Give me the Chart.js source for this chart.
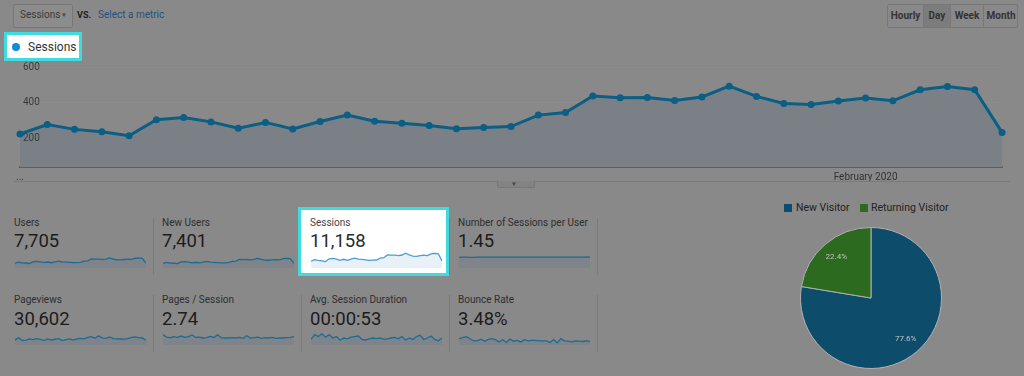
<!DOCTYPE html>
<html>
<head>
<meta charset="utf-8">
<script src="https://cdn.jsdelivr.net/npm/chart.js@4.4.1/dist/chart.umd.min.js"></script>
<style>
  body { margin: 0; width: 1024px; height: 376px; background: #898989; font-family: Roboto, sans-serif; position: relative; overflow: hidden; }
  .abs { position: absolute; white-space: nowrap; }
  .btn { position: absolute; top: 0; height: 22px; line-height: 22px; text-align: center; font-size: 10px; font-weight: bold; color: #333; border-left: 1px solid #777; }
</style>
</head>
<body>

<!-- top controls -->
<div class="abs" style="left:13px;top:4px;width:58px;height:22px;border:1px solid #777;border-radius:2px;background:#8c8c8c;"></div>
<div class="abs" style="left:20px;top:9px;font-size:10px;color:#3b3b3b;">Sessions</div>
<div class="abs" style="left:61px;top:11px;font-size:6px;color:#444;">&#9660;</div>
<div class="abs" style="left:77px;top:10px;font-size:9px;font-weight:bold;color:#1e1e1e;">VS.</div>
<div class="abs" style="left:98px;top:9px;font-size:10px;color:#27507a;">Select a metric</div>

<div class="abs" style="left:887px;top:4px;width:129px;height:22px;border:1px solid #777;border-radius:2px;">
  <div class="btn" style="left:0;width:35px;border-left:none;">Hourly</div>
  <div class="btn" style="left:35px;width:26px;background:#7c7c7c;">Day</div>
  <div class="btn" style="left:62px;width:32px;">Week</div>
  <div class="btn" style="left:95px;width:34px;">Month</div>
</div>

<!-- legend highlight -->
<div class="abs" style="left:4px;top:32px;width:78px;height:29px;box-sizing:border-box;border:3px solid #3fdbdf;background:#fff;"></div>
<div class="abs" style="left:12px;top:43px;width:8px;height:8px;border-radius:50%;background:#0d8ed6;"></div>
<div class="abs" style="left:28px;top:40px;font-size:12px;color:#333;">Sessions</div>

<canvas id="mainChart" class="abs" style="left:0;top:51px;" width="1024" height="136"></canvas>

<!-- bottom rule and tab -->
<div class="abs" style="left:14px;top:181px;width:996px;height:1px;background:#7a7a7a;"></div>
<div class="abs" style="left:497px;top:181px;width:36px;height:6px;background:#838383;border:1px solid #777;border-top:none;border-radius:0 0 2px 2px;"></div>
<div class="abs" style="left:511px;top:180px;font-size:6px;color:#444;">&#9660;</div>

<!-- sessions tile highlight -->
<div class="abs" style="left:298px;top:207px;width:151px;height:69px;box-sizing:border-box;border:3px solid #3fdbdf;background:#fff;"></div>

<div id="tiles"></div>

<!-- pie legend -->
<div class="abs" style="left:784px;top:204px;width:8px;height:8px;background:#0e4c6c;"></div>
<div class="abs" style="left:796px;top:201px;font-size:10.5px;color:#222;">New Visitor</div>
<div class="abs" style="left:860px;top:204px;width:8px;height:8px;background:#2c6a1f;"></div>
<div class="abs" style="left:871px;top:201px;font-size:10.5px;color:#222;">Returning Visitor</div>
<canvas id="pieChart" class="abs" style="left:796px;top:223px;" width="150" height="150"></canvas>

<script>
// days shown on the main chart
const days = ['Jan 1','Jan 2','Jan 3','Jan 4','Jan 5','Jan 6','Jan 7','Jan 8','Jan 9','Jan 10',
  'Jan 11','Jan 12','Jan 13','Jan 14','Jan 15','Jan 16','Jan 17','Jan 18','Jan 19','Jan 20',
  'Jan 21','Jan 22','Jan 23','Jan 24','Jan 25','Jan 26','Jan 27','Jan 28','Jan 29','Jan 30',
  'Jan 31','Feb 1','Feb 2','Feb 3','Feb 4','Feb 5','Feb 6'];
const monthTickDays = ['Jan 1', 'Feb 1'];
const monthTickText = ['...', 'February 2020'];
const yTicks = [200, 400, 600];

const sessions = [225,278,251,238,215,305,318,293,257,290,253,295,331,297,286,273,255,261,267,331,
  345,438,429,430,413,433,493,436,396,390,410,427,411,473,491,473,234];

// sparklines in the metric tiles
const usersDaily = [160,192,174,166,150,210,219,203,178,200,176,204,228,205,198,189,177,181,185,228,
  238,300,295,296,285,298,338,300,273,269,283,294,283,325,337,325,163];
const newUsersDaily = [154,184,167,159,144,201,210,194,170,192,168,195,218,196,190,181,170,174,177,218,
  228,287,282,284,273,286,324,288,262,258,271,281,271,311,322,311,157];
const sessionsPerUserDaily = [1.41,1.45,1.44,1.43,1.43,1.45,1.45,1.44,1.44,1.45,1.44,1.45,1.45,1.45,1.44,1.44,1.44,1.44,1.44,1.45,
  1.45,1.46,1.45,1.45,1.45,1.45,1.46,1.45,1.45,1.45,1.45,1.45,1.45,1.46,1.46,1.47,1.43];
const pageviewsDaily = [700,1050,640,700,860,760,900,800,640,880,720,820,900,620,760,880,700,860,940,880,
  1100,1200,960,1330,980,940,1150,900,880,860,850,900,1100,1150,1050,1000,640];
const pagesPerSessionDaily = [3.7,2.8,2.6,3.0,2.7,3.2,2.7,3.0,3.6,2.7,2.8,2.5,2.6,3.1,2.7,3.6,2.6,2.5,2.5,2.6,
  2.5,2.7,2.4,3.3,2.5,2.6,2.8,2.4,2.6,2.5,2.7,2.4,2.5,2.5,2.6,2.7,3.0];
const avgDurationDaily = [40,74,60,80,56,74,50,60,34,50,44,56,60,64,40,36,44,50,46,50,
  40,44,50,54,44,60,36,50,40,60,70,40,50,64,40,30,50];
const bounceRateDaily = [4.5,5.2,6.0,4.5,3.0,3.0,4.2,2.7,3.8,4.5,3.8,2.2,3.8,1.8,4.2,2.7,3.3,2.2,3.8,3.0,
  3.3,3.3,3.0,3.0,3.0,1.8,3.8,1.5,4.5,3.0,2.7,2.2,3.0,2.7,2.5,3.0,2.5];

const metricNames = ['Users','New Users','Sessions','Number of Sessions per User',
  'Pageviews','Pages / Session','Avg. Session Duration','Bounce Rate'];
const metricTotals = ['7,705','7,401','11,158','1.45','30,602','2.74','00:00:53','3.48%'];
const sparkSeries = [usersDaily, newUsersDaily, sessions, sessionsPerUserDaily,
  pageviewsDaily, pagesPerSessionDaily, avgDurationDaily, bounceRateDaily];

const visitorTypes = ['New Visitor', 'Returning Visitor'];
const visitorShare = [77.6, 22.4];

Chart.defaults.font.family = 'Roboto, sans-serif';
const lineDim = '#0b5e84';

new Chart(document.getElementById('mainChart'), {
  type: 'line',
  data: {
    labels: days,
    datasets: [{
      data: sessions,
      borderColor: lineDim,
      backgroundColor: '#7a8086',
      fill: 'start',
      borderWidth: 3,
      pointRadius: 3.5,
      pointBackgroundColor: lineDim,
      pointBorderWidth: 0,
      tension: 0,
      clip: false
    }]
  },
  options: {
    responsive: false,
    animation: false,
    layout: { padding: { left: 14, right: 22, top: 0, bottom: 0 } },
    plugins: { legend: { display: false }, tooltip: { enabled: false } },
    scales: {
      x: {
        grid: { display: false, drawTicks: false },
        border: { display: true, color: '#5e5e5e', width: 2 },
        ticks: {
          autoSkip: false, maxRotation: 0, padding: 4, color: '#333', font: { size: 10 },
          callback: function (v, i) {
            const k = monthTickDays.indexOf(days[i]);
            return k < 0 ? '' : monthTickText[k];
          }
        }
      },
      y: {
        min: 40, max: 640,
        afterBuildTicks: function (axis) { axis.ticks = yTicks.map(v => ({ value: v })); },
        grid: { color: 'rgba(255,255,255,0.04)', drawTicks: false },
        border: { display: false },
        ticks: { z: 1, mirror: true, padding: 3, color: '#3a3a3a', font: { size: 10 } }
      }
    }
  }
});

// metric tiles
const tiles = document.getElementById('tiles');
metricNames.forEach(function (name, i) {
  const col = i % 4, row = Math.floor(i / 4);
  const x = 14 + col * 148;
  const hi = i === 2;
  const labelTop = row === 0 ? 216 : 293;
  const valueTop = row === 0 ? 230 : 308;

  if (!(row === 0 && col === 1)) {
    const d = document.createElement('div');
    d.className = 'abs';
    d.style.cssText = 'left:' + (153 + col * 148) + 'px;top:' + (row === 0 ? 218 : 295) + 'px;width:1px;height:57px;background:#7a7a7a;';
    tiles.appendChild(d);
  }

  const lab = document.createElement('div');
  lab.className = 'abs';
  lab.style.cssText = 'left:' + x + 'px;top:' + (labelTop + 1) + 'px;font-size:10px;color:' + (hi ? '#444' : '#2e2e2e') + ';';
  lab.textContent = name;
  tiles.appendChild(lab);

  const val = document.createElement('div');
  val.className = 'abs';
  val.style.cssText = 'left:' + x + 'px;top:' + valueTop + 'px;font-size:18.5px;line-height:23px;color:' + (hi ? '#2a2a2a' : '#1c1c1c') + ';';
  val.textContent = metricTotals[i];
  tiles.appendChild(val);

  const c = document.createElement('canvas');
  c.className = 'abs';
  c.width = 131;
  c.height = row === 0 ? 16 : 15;
  c.style.left = (x + 1) + 'px';
  c.style.top = (row === 0 ? 252 : 330) + 'px';
  tiles.appendChild(c);

  new Chart(c, {
    type: 'line',
    data: {
      labels: days,
      datasets: [{
        data: sparkSeries[i],
        borderColor: hi ? '#4a9fd5' : '#1d6c93',
        backgroundColor: hi ? '#e8f0f8' : '#7e8489',
        fill: 'origin',
        borderWidth: 1.3,
        pointRadius: 0,
        tension: 0
      }]
    },
    options: {
      responsive: false,
      animation: false,
      layout: { padding: { top: 1, left: 0, right: 0, bottom: 0 } },
      plugins: { legend: { display: false }, tooltip: { enabled: false } },
      scales: { x: { display: false }, y: { display: false, min: 0 } }
    }
  });
});

// percentage labels inside the pie
const pieLabels = {
  id: 'pieLabels',
  afterDatasetsDraw(chart) {
    const ctx = chart.ctx;
    chart.getDatasetMeta(0).data.forEach(function (arc, i) {
      const p = arc.getProps(['x', 'y', 'startAngle', 'endAngle', 'outerRadius']);
      const mid = (p.startAngle + p.endAngle) / 2;
      const r = p.outerRadius * 0.76;
      ctx.save();
      ctx.fillStyle = '#c2c2c2';
      ctx.font = '8px Roboto, sans-serif';
      ctx.textAlign = 'center';
      ctx.textBaseline = 'middle';
      ctx.fillText(visitorShare[i].toFixed(1) + '%', p.x + Math.cos(mid) * r, p.y + Math.sin(mid) * r);
      ctx.restore();
    });
  }
};

new Chart(document.getElementById('pieChart'), {
  type: 'pie',
  data: {
    labels: visitorTypes,
    datasets: [{
      data: visitorShare,
      backgroundColor: ['#0e4c6c', '#2c6a1f'],
      borderColor: '#b0b0b0',
      borderWidth: 1
    }]
  },
  options: {
    responsive: false,
    animation: false,
    layout: { padding: 4 },
    plugins: { legend: { display: false }, tooltip: { enabled: false } }
  },
  plugins: [pieLabels]
});
</script>
</body>
</html>
